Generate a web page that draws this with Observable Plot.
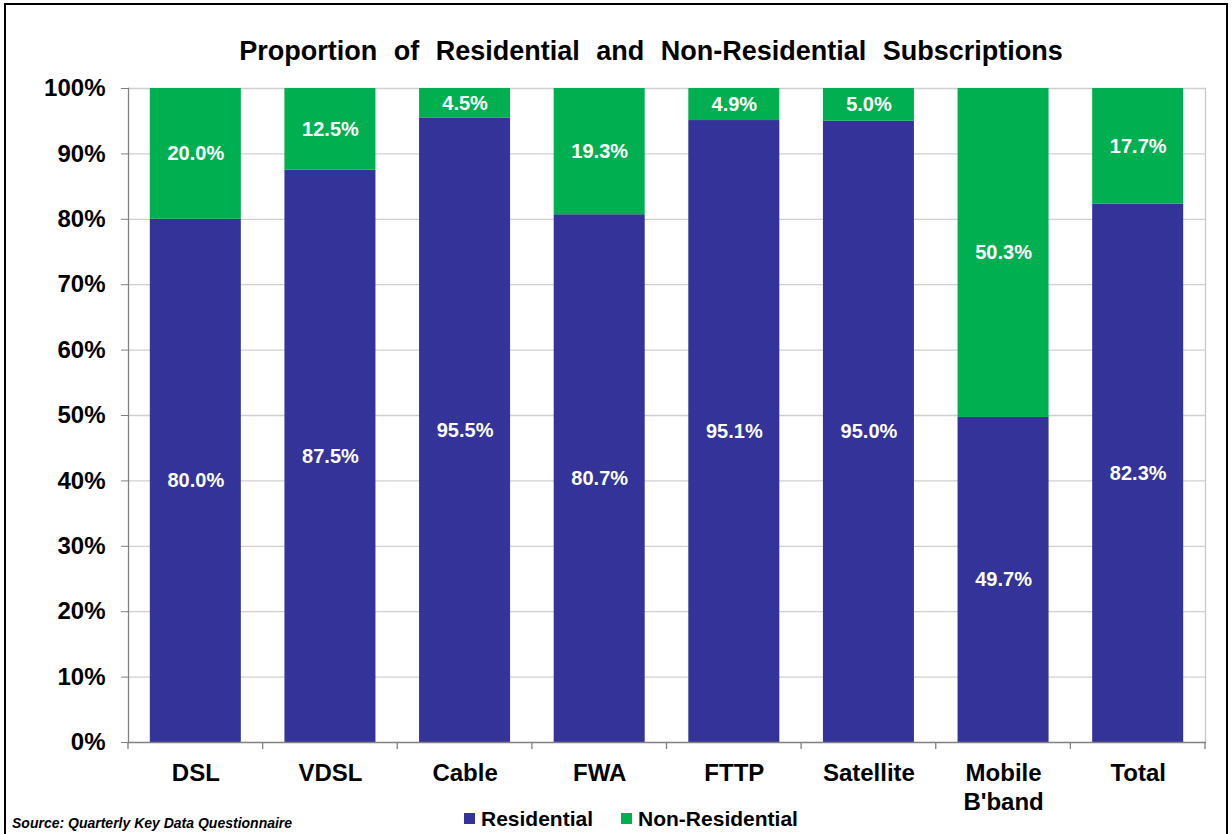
<!DOCTYPE html>
<html>
<head>
<meta charset="utf-8">
<script src="https://cdn.jsdelivr.net/npm/d3@7"></script>
<script src="https://cdn.jsdelivr.net/npm/@observablehq/plot@0.6"></script>
<style>
  html, body { margin: 0; padding: 0; background: #fff; }
  body { font-family: "Liberation Sans", Arial, sans-serif; }
  #frame { position: relative; width: 1232px; height: 834px; overflow: hidden; background: #fff; }
  #border { position: absolute; left: 4px; top: 3px; width: 1224px; height: 900px; border: 2px solid #000; box-sizing: border-box; pointer-events: none; }
  #chart { position: absolute; left: 0; top: 0; }
  #title { position: absolute; left: 0; width: 1302px; top: 38px; text-align: center; font-size: 27px; line-height: 27px; font-weight: bold; color: #000; white-space: nowrap; word-spacing: 9px; }
  #legend { position: absolute; left: 464px; top: 808px; display: flex; align-items: center; font-size: 21px; line-height: 21px; font-weight: bold; color: #000; }
  .item { display: flex; align-items: center; }
  .sw { width: 11px; height: 11px; margin-right: 6px; }
  #source { position: absolute; left: 12px; top: 815px; font-size: 14px; line-height: 16px; font-weight: bold; font-style: italic; color: #000; white-space: nowrap; }
</style>
</head>
<body>
<div id="frame">
  <div id="chart"></div>
  <div id="title">Proportion of Residential and Non-Residential Subscriptions</div>
  <div id="legend"></div>
  <div id="source">Source: Quarterly Key Data Questionnaire</div>
  <div id="border"></div>
</div>
<script>
// ---- data ----
const categories = ["DSL", "VDSL", "Cable", "FWA", "FTTP", "Satellite", "Mobile\nB'band", "Total"];
const residential = [80.0, 87.5, 95.5, 80.7, 95.1, 95.0, 49.7, 82.3];
const nonResidential = [20.0, 12.5, 4.5, 19.3, 4.9, 5.0, 50.3, 17.7];
const seriesNames = ["Residential", "Non-Residential"];
const seriesColors = ["#333399", "#00B050"];
const yTicks = [0, 10, 20, 30, 40, 50, 60, 70, 80, 90, 100];

// ---- table for the library ----
const rows = [];
categories.forEach((c, i) => {
  rows.push({cat: c, series: seriesNames[0], value: residential[i], mid: residential[i] / 2});
  rows.push({cat: c, series: seriesNames[1], value: nonResidential[i], mid: residential[i] + nonResidential[i] / 2});
});

const W = 1232, H = 834;
const mL = 128, mR = 27, mT = 88, mB = 92;
const padInner = 0.324, padOuter = 0.162;

const plot = Plot.plot({
  width: W,
  height: H,
  marginLeft: mL,
  marginRight: mR,
  marginTop: mT,
  marginBottom: mB,
  style: {fontFamily: "'Liberation Sans', Arial, sans-serif", background: "transparent", overflow: "visible"},
  x: {domain: categories, paddingInner: padInner, paddingOuter: padOuter, round: false, label: null},
  y: {domain: [0, 100], label: null},
  color: {domain: seriesNames, range: seriesColors},
  marks: [
    Plot.ruleY(yTicks.filter(d => d > 0), {stroke: "#d0d0d0", strokeWidth: 1.3}),
    Plot.frame({anchor: "right", stroke: "#c8c8c8", strokeWidth: 1.3}),
    Plot.barY(rows, {x: "cat", y: "value", fill: "series", z: "series", order: seriesNames}),
    Plot.text(rows, {x: "cat", y: "mid", text: d => d.value.toFixed(1) + "%", fill: "white", fontSize: 20, fontWeight: "bold"}),
    Plot.frame({anchor: "left", stroke: "#808080", strokeWidth: 1.3}),
    Plot.frame({anchor: "bottom", stroke: "#808080", strokeWidth: 1.3}),
    Plot.axisY({ticks: yTicks, tickFormat: d => d + "%", tickSize: 7, tickPadding: 16, stroke: "#808080", fill: "#000", fontSize: 24, fontWeight: "bold", label: null}),
    Plot.axisX({tickSize: 0, tickPadding: 18, fill: "#000", fontSize: 24, fontWeight: "bold", lineHeight: 1.2, label: null})
  ]
});
document.getElementById("chart").appendChild(plot);

// tick marks between categories on the x axis, derived from the scales
const xs = plot.scale("x"), ys = plot.scale("y");
const gap = (xs.step - xs.bandwidth) / 2;
const bounds = categories.map(c => xs.apply(c) - gap);
bounds.push(xs.apply(categories[categories.length - 1]) + xs.bandwidth + gap);
const y0 = ys.apply(0);
d3.select(plot).append("g")
  .selectAll("line").data(bounds).join("line")
  .attr("x1", d => d).attr("x2", d => d)
  .attr("y1", y0).attr("y2", y0 + 7)
  .attr("stroke", "#808080").attr("stroke-width", 1.3);

// legend
const legend = d3.select("#legend");
seriesNames.forEach((s, i) => {
  const it = legend.append("div").attr("class", "item").style("margin-right", i === 0 ? "28px" : "0");
  it.append("div").attr("class", "sw").style("background", seriesColors[i]);
  it.append("span").text(s);
});
</script>
</body>
</html>
